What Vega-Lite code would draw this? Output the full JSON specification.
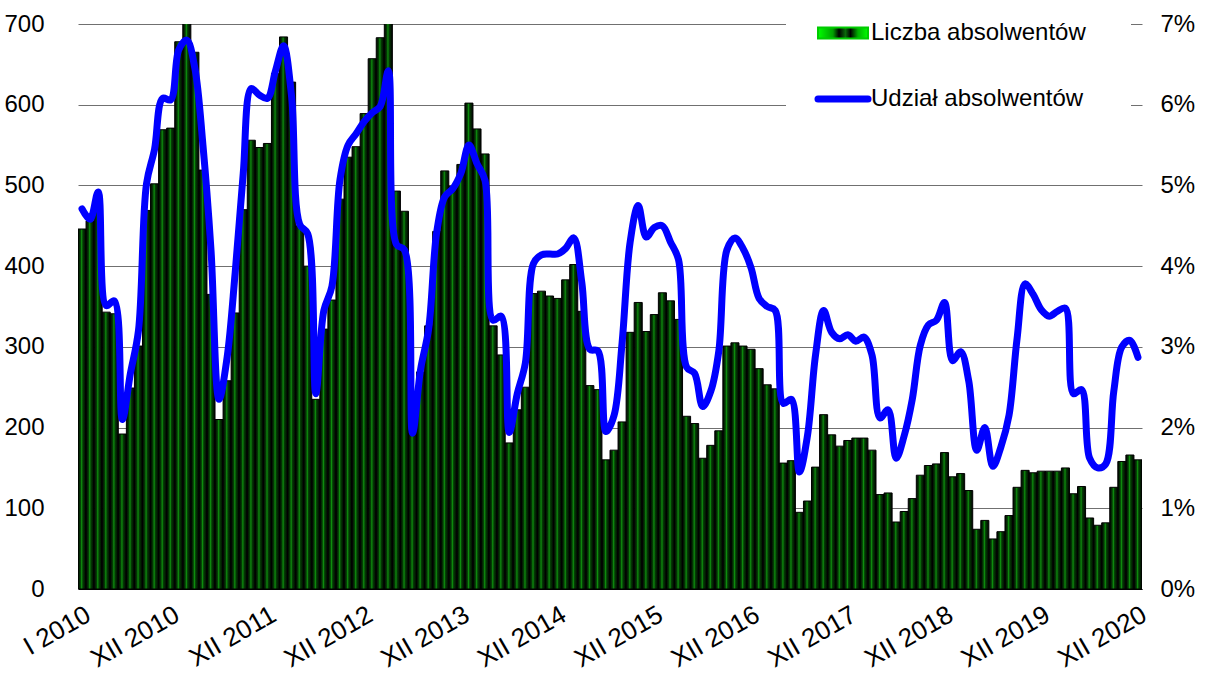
{
  "$schema": "https://vega.github.io/schema/vega-lite/v6.json",
  "width": 1064,
  "height": 565,
  "autosize": {"type": "none"},
  "padding": {"left": 78, "top": 24, "right": 66, "bottom": 87},
  "background": "white",
  "config": {
    "font": "Liberation Sans",
    "view": {"stroke": null},
    "axis": {"labelFont": "Liberation Sans", "labelFontSize": 24, "labelColor": "black", "title": null}
  },
  "data": {"values": [
    {"m":"I 2010","n":446,"p":4.71},{"m":"II 2010","n":456,"p":4.58},{"m":"III 2010","n":468,"p":4.92},{"m":"IV 2010","n":343,"p":3.51},{"m":"V 2010","n":341,"p":3.57},{"m":"VI 2010","n":192,"p":2.10},{"m":"VII 2010","n":249,"p":2.67},{"m":"VIII 2010","n":301,"p":3.20},{"m":"IX 2010","n":469,"p":5.02},{"m":"X 2010","n":502,"p":5.45},{"m":"XI 2010","n":569,"p":6.08},{"m":"XII 2010","n":571,"p":6.06},
    {"m":"I 2011","n":678,"p":6.68},{"m":"II 2011","n":712,"p":6.80},{"m":"III 2011","n":665,"p":6.45},{"m":"IV 2011","n":519,"p":5.50},{"m":"V 2011","n":365,"p":4.20},{"m":"VI 2011","n":210,"p":2.35},{"m":"VII 2011","n":258,"p":2.87},{"m":"VIII 2011","n":342,"p":3.92},{"m":"IX 2011","n":470,"p":5.15},{"m":"X 2011","n":556,"p":6.20},{"m":"XI 2011","n":547,"p":6.12},{"m":"XII 2011","n":552,"p":6.08},
    {"m":"I 2012","n":639,"p":6.42},{"m":"II 2012","n":684,"p":6.73},{"m":"III 2012","n":628,"p":6.10},{"m":"IV 2012","n":450,"p":4.52},{"m":"V 2012","n":400,"p":4.40},{"m":"VI 2012","n":235,"p":2.42},{"m":"VII 2012","n":322,"p":3.45},{"m":"VIII 2012","n":358,"p":3.75},{"m":"IX 2012","n":483,"p":5.07},{"m":"X 2012","n":535,"p":5.50},{"m":"XI 2012","n":548,"p":5.64},{"m":"XII 2012","n":589,"p":5.79},
    {"m":"I 2013","n":657,"p":5.90},{"m":"II 2013","n":683,"p":5.98},{"m":"III 2013","n":706,"p":6.42},{"m":"IV 2013","n":493,"p":4.27},{"m":"V 2013","n":468,"p":4.20},{"m":"VI 2013","n":195,"p":1.93},{"m":"VII 2013","n":269,"p":2.72},{"m":"VIII 2013","n":326,"p":3.22},{"m":"IX 2013","n":443,"p":4.42},{"m":"X 2013","n":518,"p":4.86},{"m":"XI 2013","n":499,"p":4.96},{"m":"XII 2013","n":526,"p":5.15},
    {"m":"I 2014","n":602,"p":5.50},{"m":"II 2014","n":570,"p":5.27},{"m":"III 2014","n":539,"p":5.06},{"m":"IV 2014","n":326,"p":3.33},{"m":"V 2014","n":290,"p":3.38},{"m":"VI 2014","n":181,"p":1.94},{"m":"VII 2014","n":222,"p":2.42},{"m":"VIII 2014","n":250,"p":2.80},{"m":"IX 2014","n":366,"p":4.03},{"m":"X 2014","n":369,"p":4.14},{"m":"XI 2014","n":363,"p":4.15},{"m":"XII 2014","n":360,"p":4.15},
    {"m":"I 2015","n":383,"p":4.22},{"m":"II 2015","n":402,"p":4.35},{"m":"III 2015","n":344,"p":3.80},{"m":"IV 2015","n":252,"p":2.97},{"m":"V 2015","n":247,"p":2.95},{"m":"VI 2015","n":160,"p":1.95},{"m":"VII 2015","n":172,"p":2.15},{"m":"VIII 2015","n":207,"p":3.05},{"m":"IX 2015","n":318,"p":4.30},{"m":"X 2015","n":355,"p":4.75},{"m":"XI 2015","n":319,"p":4.36},{"m":"XII 2015","n":340,"p":4.48},
    {"m":"I 2016","n":367,"p":4.50},{"m":"II 2016","n":357,"p":4.30},{"m":"III 2016","n":334,"p":4.08},{"m":"IV 2016","n":214,"p":2.75},{"m":"V 2016","n":205,"p":2.67},{"m":"VI 2016","n":162,"p":2.26},{"m":"VII 2016","n":178,"p":2.45},{"m":"VIII 2016","n":196,"p":2.95},{"m":"IX 2016","n":301,"p":4.20},{"m":"X 2016","n":305,"p":4.35},{"m":"XI 2016","n":301,"p":4.22},{"m":"XII 2016","n":297,"p":3.98},
    {"m":"I 2017","n":273,"p":3.60},{"m":"II 2017","n":253,"p":3.50},{"m":"III 2017","n":248,"p":3.45},{"m":"IV 2017","n":156,"p":2.30},{"m":"V 2017","n":159,"p":2.35},{"m":"VI 2017","n":95,"p":1.45},{"m":"VII 2017","n":109,"p":1.90},{"m":"VIII 2017","n":151,"p":2.90},{"m":"IX 2017","n":216,"p":3.45},{"m":"X 2017","n":191,"p":3.18},{"m":"XI 2017","n":177,"p":3.10},{"m":"XII 2017","n":184,"p":3.15},
    {"m":"I 2018","n":187,"p":3.07},{"m":"II 2018","n":187,"p":3.12},{"m":"III 2018","n":172,"p":2.90},{"m":"IV 2018","n":117,"p":2.12},{"m":"V 2018","n":119,"p":2.22},{"m":"VI 2018","n":83,"p":1.62},{"m":"VII 2018","n":96,"p":1.90},{"m":"VIII 2018","n":112,"p":2.35},{"m":"IX 2018","n":141,"p":3.02},{"m":"X 2018","n":153,"p":3.27},{"m":"XI 2018","n":155,"p":3.33},{"m":"XII 2018","n":169,"p":3.55},
    {"m":"I 2019","n":139,"p":2.83},{"m":"II 2019","n":143,"p":2.94},{"m":"III 2019","n":122,"p":2.58},{"m":"IV 2019","n":74,"p":1.72},{"m":"V 2019","n":85,"p":2.00},{"m":"VI 2019","n":62,"p":1.52},{"m":"VII 2019","n":71,"p":1.76},{"m":"VIII 2019","n":91,"p":2.15},{"m":"IX 2019","n":126,"p":3.10},{"m":"X 2019","n":147,"p":3.78},{"m":"XI 2019","n":144,"p":3.65},{"m":"XII 2019","n":146,"p":3.46},
    {"m":"I 2020","n":146,"p":3.38},{"m":"II 2020","n":146,"p":3.44},{"m":"III 2020","n":150,"p":3.48},{"m":"IV 2020","n":118,"p":2.42},{"m":"V 2020","n":127,"p":2.47},{"m":"VI 2020","n":88,"p":1.62},{"m":"VII 2020","n":79,"p":1.50},{"m":"VIII 2020","n":82,"p":1.55},{"m":"IX 2020","n":126,"p":2.45},{"m":"X 2020","n":158,"p":3.00},{"m":"XI 2020","n":166,"p":3.08},{"m":"XII 2020","n":160,"p":2.87}
  ]},
  "encoding": {
    "x": {
      "field": "m", "type": "ordinal", "sort": null,
      "scale": {"paddingInner": 0, "paddingOuter": 0},
      "axis": {
        "values": ["I 2010","XII 2010","XII 2011","XII 2012","XII 2013","XII 2014","XII 2015","XII 2016","XII 2017","XII 2018","XII 2019","XII 2020"],
        "labelAngle": -30, "ticks": false, "domain": true, "domainColor": "black", "domainWidth": 1,
        "labelPadding": 12, "labelFontSize": 26, "grid": false
      }
    }
  },
  "layer": [
    {
      "mark": {
        "type": "bar", "clip": true, "stroke": "black", "strokeWidth": 1,
        "fill": {"gradient": "linear", "x1": 0, "y1": 0, "x2": 1, "y2": 0,
          "stops": [{"offset": 0, "color": "#000000"}, {"offset": 0.3, "color": "#053d05"}, {"offset": 0.45, "color": "#0e8e0e"}, {"offset": 0.6, "color": "#053d05"}, {"offset": 1, "color": "#000000"}]}
      },
      "encoding": {
        "y": {"field": "n", "type": "quantitative", "scale": {"domain": [0, 700], "nice": false},
          "axis": {"values": [0,100,200,300,400,500,600,700], "grid": true, "gridColor": "#707070", "gridWidth": 1,
            "domain": false, "ticks": false, "labelPadding": 34}}
      }
    },
    {
      "mark": {"type": "line", "stroke": "#0000ff", "strokeWidth": 7, "interpolate": "catmull-rom", "strokeCap": "round", "strokeJoin": "round"},
      "encoding": {
        "y": {"field": "p", "type": "quantitative", "scale": {"domain": [0, 7], "nice": false},
          "axis": {"orient": "right", "values": [0,1,2,3,4,5,6,7], "labelExpr": "datum.value + '%'", "grid": false,
            "domain": false, "ticks": false, "labelPadding": 18}},
        "stroke": {
          "datum": "Udział absolwentów", "type": "nominal",
          "scale": {"domain": ["Liczba absolwentów", "Udział absolwentów"], "range": ["#00cc00", "#0000ff"]},
          "legend": {
            "orient": "none", "legendX": 708, "legendY": -48, "title": null, "direction": "vertical",
            "fillColor": "white", "padding": 45, "labelFontSize": 24, "labelFont": "Liberation Sans", "labelColor": "black",
            "labelOffset": 16, "symbolSize": 2500, "rowPadding": 40, "labelLimit": 400,
            "encode": {"symbols": {"update": {
              "shape": {"signal": "datum.value === 'Liczba absolwentów' ? 'M-1,-0.22H1V0.22H-1Z' : 'stroke'"},
              "fill": {"signal": "datum.value === 'Liczba absolwentów' ? {'gradient': 'linear', 'x1': 0, 'y1': 0, 'x2': 1, 'y2': 0, 'stops': [{'offset': 0, 'color': '#00ff00'}, {'offset': 0.3, 'color': '#00a000'}, {'offset': 0.42, 'color': '#000000'}, {'offset': 0.55, 'color': '#0a6a0a'}, {'offset': 0.65, 'color': '#000000'}, {'offset': 0.8, 'color': '#00b000'}, {'offset': 1, 'color': '#00ff00'}]} : 'transparent'"},
              "stroke": {"signal": "datum.value === 'Liczba absolwentów' ? '#000000' : '#0000ff'"},
              "strokeWidth": {"signal": "datum.value === 'Liczba absolwentów' ? 2 : 7"},
              "strokeCap": {"value": "round"},
              "opacity": {"value": 1}
            }}}
          }
        }
      }
    }
  ],
  "resolve": {"scale": {"y": "independent"}}
}
